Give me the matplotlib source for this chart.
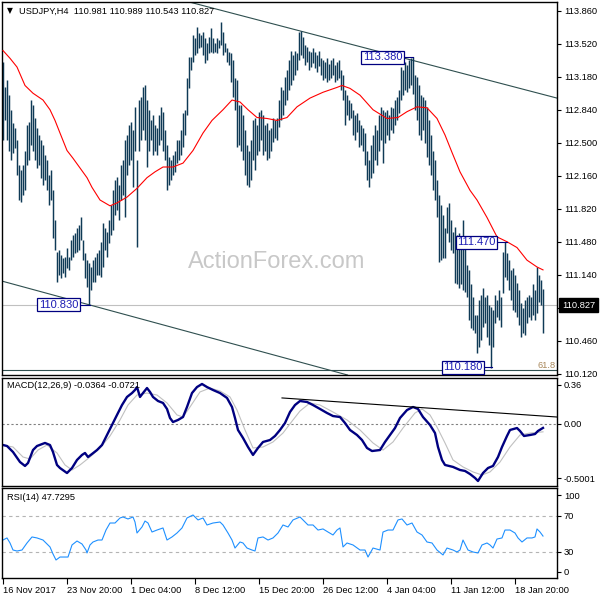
import matplotlib
matplotlib.use("Agg")
import numpy as np
import matplotlib.pyplot as plt

# ---- price bars (USDJPY H4), one high/low per bar ----
highs = [113.33, 113.07, 113.15, 112.99, 112.84, 112.70, 112.65, 112.53, 112.27, 112.22,
         112.27, 112.42, 112.68, 112.71, 112.94, 112.89, 112.75, 112.65, 112.58, 112.53,
         112.48, 112.37, 112.32, 112.17, 112.22,
         112.01, 111.70, 111.37, 111.39, 111.34, 111.31, 111.32, 111.42, 111.32, 111.50,
         111.55, 111.57, 111.62, 111.65, 111.73, 111.50, 111.36, 111.29, 111.26, 111.22,
         111.29, 111.32, 111.36, 111.39, 111.48, 111.67, 111.62, 111.58, 111.70, 111.86,
         112.01, 112.12, 112.15, 112.06, 112.27, 112.32, 112.53, 112.58, 112.68, 112.71,
         112.63, 112.87, 112.32, 112.94, 112.97, 113.07, 113.09, 112.94, 112.84, 112.73,
         112.79, 112.68, 112.65, 112.79, 112.87, 112.82, 112.63, 112.48, 112.35, 112.32,
         112.37, 112.42, 112.53, 112.53, 112.63, 112.81, 112.84,
         113.17, 113.38, 113.38, 113.61, 113.58, 113.69, 113.63, 113.61, 113.64, 113.58,
         113.53, 113.59, 113.68, 113.58, 113.53, 113.58, 113.56, 113.74, 113.64, 113.53,
         113.48, 113.43, 113.42, 113.35, 113.17, 113.15, 112.89,
         112.89, 112.79, 112.63, 112.48, 112.42, 112.53, 112.73, 112.76, 112.68, 112.82,
         112.84, 112.79, 112.68, 112.70, 112.63, 112.65, 112.76, 112.73, 112.75, 112.94,
         113.07, 113.04, 113.18, 113.25, 113.35, 113.45, 113.40, 113.45, 113.42, 113.64,
         113.65, 113.59, 113.51, 113.49, 113.45, 113.43, 113.48, 113.43, 113.40, 113.45,
         113.37, 113.35, 113.33, 113.37, 113.31, 113.35, 113.37, 113.30, 113.33, 113.35,
         113.25, 113.20, 113.04,
         112.99, 112.94, 112.91, 112.84, 112.79, 112.81, 112.73, 112.68, 112.65, 112.60,
         112.42, 112.32, 112.48, 112.58, 112.68, 112.63, 112.79, 112.87, 112.84, 112.82,
         112.84, 112.79, 112.87, 112.86, 112.94, 112.97, 113.04,
         113.28, 113.25, 113.33, 113.30, 113.35, 113.37, 113.38, 113.20, 113.18, 113.09,
         112.99, 112.97, 112.94, 112.87, 112.73, 112.58, 112.42, 112.32, 112.12,
         111.96, 111.86, 111.76, 111.62, 111.84, 111.88, 111.70, 111.58, 111.63, 111.55,
         111.57, 111.50, 111.70, 111.45, 111.24, 111.19, 111.04, 110.91, 110.73, 110.73,
         110.88, 110.93, 111.00, 110.91, 110.93, 110.83, 110.81,
         110.78, 110.93, 110.88, 110.98, 110.91, 111.37, 111.48, 111.36, 111.29, 111.19,
         111.21, 111.14, 111.06, 110.98, 110.85, 110.80, 110.88, 110.91, 110.93, 110.91,
         111.04, 110.98, 111.22, 111.14, 111.09, 110.99]
lows = [112.53, 112.73, 112.53, 112.42, 112.32, 112.39, 112.45, 112.17, 111.91, 111.89,
        111.96, 112.01, 112.27, 112.32, 112.48, 112.42, 112.32, 112.24, 112.27, 112.14,
        112.06, 112.12, 112.01, 111.86, 111.91,
        111.52, 111.39, 111.07, 111.14, 111.11, 111.16, 111.12, 111.21, 111.19, 111.29,
        111.32, 111.36, 111.37, 111.39, 111.50, 111.29, 111.11, 111.01, 110.83, 110.98,
        111.07, 111.07, 111.14, 111.14, 111.12, 111.22, 111.39, 111.32, 111.47, 111.55,
        111.60, 111.76, 111.81, 111.70, 111.91, 111.96, 111.73, 112.17, 112.27, 112.32,
        112.04, 112.42, 111.43, 112.42, 112.53, 112.63, 112.53, 112.25, 112.42, 112.53,
        112.37, 112.42, 112.37, 112.48, 112.53, 112.42, 112.32, 112.01, 112.06, 112.12,
        112.17, 112.20, 112.29, 112.32, 112.37, 112.46, 112.58,
        112.79, 113.06, 113.25, 113.33, 113.40, 113.42, 113.48, 113.49, 113.40, 113.32,
        113.35, 113.42, 113.43, 113.42, 113.43, 113.42, 113.48, 113.51, 113.40, 113.43,
        113.33, 113.30, 113.13, 112.97, 112.84, 112.46, 112.48,
        112.42, 112.32, 112.17, 112.06, 112.04, 112.12, 112.32, 112.22, 112.37, 112.42,
        112.53, 112.37, 112.42, 112.32, 112.34, 112.42, 112.51, 112.55, 112.53, 112.66,
        112.73, 112.79, 112.89, 112.94, 113.04, 113.09, 113.15, 113.20, 113.25, 113.35,
        113.40, 113.37, 113.30, 113.33, 113.25, 113.28, 113.32, 113.27, 113.23, 113.29,
        113.20, 113.15, 113.17, 113.13, 113.15, 113.17, 113.20, 113.13, 113.15, 113.17,
        113.04, 112.94, 112.68,
        112.79, 112.73, 112.75, 112.58, 112.53, 112.61, 112.46, 112.48, 112.42, 112.27,
        112.12, 112.04, 112.14, 112.19, 112.32, 112.27, 112.42, 112.53, 112.29, 112.50,
        112.58, 112.53, 112.63, 112.60, 112.68, 112.73, 112.81,
        112.94, 112.99, 113.04, 113.02, 113.06, 113.09, 113.00, 112.84, 112.73, 112.58,
        112.53, 112.63, 112.50, 112.35, 112.27, 112.17, 112.01, 111.91, 111.73,
        111.27, 111.29, 111.31, 111.31, 111.57, 111.48, 111.39, 111.36, 111.06, 111.04,
        111.00, 111.04, 110.98, 110.96, 110.91, 110.67, 110.59, 110.57, 110.54, 110.33,
        110.40, 110.47, 110.60, 110.64, 110.50, 110.42, 110.18,
        110.40, 110.64, 110.70, 110.67, 110.60, 110.95, 111.12, 111.09, 110.98, 110.88,
        110.78, 110.76, 110.70, 110.62, 110.50, 110.54, 110.52, 110.64, 110.70, 110.67,
        110.73, 110.67, 110.75, 110.86, 110.83, 110.54]

# moving average (red), read at bar positions
ma_x = [0, 3.5, 7, 11, 15, 20, 23.5, 26, 28.5, 32, 35, 38.5, 42, 44.5, 48.5, 53.5, 57, 62,
        67, 72, 76, 80, 85, 90, 95, 100, 104.5, 110, 114.5, 118.5, 122.5, 127, 132, 137,
        142, 147, 153.5, 160, 167, 169.5, 173.5, 178.5, 185, 192, 197.5, 202, 207, 212,
        217, 221, 224.5, 228.5, 233.5, 237, 242, 247, 252, 257, 262, 267, 270]
ma_y = [113.45, 113.37, 113.28, 113.09, 113.01, 112.94, 112.84, 112.73, 112.60, 112.42,
        112.34, 112.24, 112.14, 112.04, 111.91, 111.85, 111.88, 111.94, 112.03, 112.14,
        112.20, 112.25, 112.25, 112.29, 112.42, 112.60, 112.73, 112.84, 112.94, 112.92,
        112.84, 112.76, 112.75, 112.73, 112.76, 112.87, 112.96, 113.02, 113.07, 113.09,
        113.06, 112.99, 112.84, 112.75, 112.76, 112.82, 112.87, 112.86, 112.75, 112.58,
        112.40, 112.20, 112.01, 111.91, 111.73, 111.53, 111.48, 111.42, 111.29, 111.22,
        111.19]

# MACD(12,26,9)
macd_x = [0, 2, 5, 8.5, 11, 12.5, 15, 17, 21, 23.5, 25, 27, 28.5, 32, 34.5, 37, 39.5, 41,
          42.5, 44.5, 47, 49.5, 52, 54.5, 57, 59.5, 62, 64.5, 66, 67, 68.5, 70, 72, 73.5,
          75, 77.5, 80, 82, 83.5, 85, 87.5, 90, 92, 94.5, 97, 99.5, 102, 105, 108.5, 112,
          114.5, 116, 117.5, 120, 122.5, 125, 127.5, 130, 133.5, 136, 138.5, 141, 143.5,
          146, 148.5, 152, 155, 158.5, 162, 165, 168.5, 171, 173.5, 177, 179.5, 182, 184.5,
          188.5, 191, 193.5, 196, 198.5, 202, 205, 207.5, 210, 213.5, 216, 217.5, 219.5,
          221, 225, 228.5, 231, 233.5, 236, 237.5, 240, 242.5, 245, 247.5, 249.5, 252,
          253.5, 257, 258.5, 260.5, 263.5, 266, 267.5, 270]
macd_y = [-0.193, -0.202, -0.257, -0.349, -0.385, -0.358, -0.239, -0.202, -0.174, -0.193,
          -0.257, -0.376, -0.404, -0.450, -0.404, -0.330, -0.284, -0.266, -0.303, -0.275,
          -0.239, -0.193, -0.101, -0.009, 0.083, 0.174, 0.248, 0.284, 0.312, 0.339,
          0.248, 0.284, 0.330, 0.294, 0.248, 0.211, 0.193, 0.138, 0.055, 0.018,
          0.037, 0.064, 0.156, 0.284, 0.339, 0.367, 0.339, 0.312, 0.284, 0.239,
          0.156, 0.055, -0.055, -0.128, -0.211, -0.284, -0.220, -0.165, -0.147, -0.110,
          -0.055, 0.009, 0.110, 0.174, 0.211, 0.202, 0.174, 0.138, 0.101, 0.073,
          0.064, 0.009, -0.055, -0.101, -0.147, -0.220, -0.248, -0.239, -0.165, -0.101,
          -0.037, 0.055, 0.128, 0.156, 0.138, 0.064, -0.009, -0.083, -0.211, -0.330,
          -0.376, -0.394, -0.422, -0.431, -0.459, -0.495, -0.523, -0.450, -0.404, -0.385,
          -0.303, -0.211, -0.110, -0.055, -0.037, -0.064, -0.110, -0.101, -0.092, -0.064,
          -0.036]
signal_x = [0, 5, 10, 13.5, 17.5, 22, 27, 31, 34.5, 38.5, 43.5, 48.5, 53.5, 58.5, 62.5, 67,
            72, 77, 82, 87, 90, 93.5, 98.5, 103.5, 108.5, 113.5, 117, 121, 125, 130, 135,
            140, 145, 148.5, 153.5, 158.5, 165, 172, 178.5, 185, 190, 195, 200, 206,
            209.5, 213.5, 217, 221, 225, 230, 235, 239.5, 243.5, 248.5, 253.5, 258.5,
            263.5, 270]
signal_y = [-0.193, -0.211, -0.303, -0.321, -0.239, -0.193, -0.266, -0.376, -0.422, -0.376,
            -0.303, -0.220, -0.110, 0.037, 0.174, 0.266, 0.284, 0.266, 0.193, 0.083,
            0.064, 0.156, 0.294, 0.330, 0.303, 0.248, 0.128, -0.055, -0.220, -0.211,
            -0.165, -0.083, 0.037, 0.119, 0.193, 0.174, 0.110, 0.037, -0.055, -0.174,
            -0.239, -0.165, -0.037, 0.101, 0.138, 0.083, -0.028, -0.174, -0.330, -0.394,
            -0.440, -0.468, -0.440, -0.349, -0.211, -0.101, -0.083, -0.072]

# RSI(14)
rsi_x = [0, 2, 3.5, 5, 7, 9.5, 12, 14.5, 17, 20, 23.5, 25, 26.5, 28.5, 31, 32.5, 34.5, 37,
         39.5, 41.5, 42, 43.5, 45, 47.5, 49.5, 51.5, 53.5, 56, 58.5, 60, 62.5, 65, 66, 67,
         69.5, 71, 72.5, 74.5, 77, 80, 82, 84.5, 87, 89.5, 92, 95, 97.5, 100, 102, 105,
         108.5, 110, 112.5, 114.5, 116, 118.5, 120, 122, 124.5, 126, 127.5, 130, 132.5,
         135, 137.5, 140, 142.5, 145, 148.5, 150, 152.5, 155, 157.5, 160, 162.5, 165, 167,
         168.5, 170, 172, 175, 178.5, 181, 182.5, 185, 188.5, 190, 192.5, 195, 197.5,
         199.5, 202, 204.5, 207, 209.5, 212, 214.5, 217, 220, 222, 225, 227, 228.5, 230,
         232.5, 235, 237.5, 239.5, 242, 243.5, 245, 247, 249.5, 251, 253.5, 256, 257.5,
         259.5, 262, 264.5, 266, 267, 268.5, 270]
rsi_y = [43.3, 45.6, 40.0, 32.2, 31.1, 32.2, 40.0, 46.7, 45.6, 43.3,
         35.6, 27.8, 21.1, 24.4, 24.4, 24.4, 37.8, 42.2, 38.9, 32.2,
         28.9, 37.8, 41.1, 43.3, 43.3, 54.4, 62.2, 62.2, 67.8, 68.9,
         66.7, 68.9, 63.3, 51.1, 57.8, 64.4, 62.2, 52.2, 54.4, 56.7,
         43.3, 46.7, 51.1, 56.7, 67.8, 71.1, 65.6, 67.8, 60.0, 62.2,
         63.3, 60.0, 51.1, 43.3, 34.4, 41.1, 40.0, 34.4, 32.2, 31.1,
         45.6, 46.7, 43.3, 45.6, 51.1, 60.0, 57.8, 65.6, 68.9, 65.6,
         60.0, 60.0, 54.4, 55.6, 52.2, 48.9, 54.4, 56.7, 35.6, 40.0,
         37.8, 32.2, 32.2, 24.4, 34.4, 32.2, 52.2, 54.4, 54.4, 65.6,
         66.7, 60.0, 62.2, 52.2, 48.9, 41.1, 40.0, 32.2, 26.7, 34.4,
         32.2, 30.0, 32.2, 43.3, 32.2, 30.0, 28.9, 37.8, 40.0, 37.8,
         34.4, 44.4, 45.6, 54.4, 54.4, 51.1, 45.6, 41.1, 45.6, 45.6,
         46.7, 55.6, 52.2, 47.7]

price_ticks = [113.86, 113.52, 113.18, 112.84, 112.50, 112.16, 111.82, 111.48, 111.14,
               110.80, 110.46, 110.12]
date_pos = [0, 32, 64, 96, 128, 160, 192, 224, 256]
date_labels = ["16 Nov 2017", "23 Nov 20:00", "1 Dec 04:00", "8 Dec 12:00",
               "15 Dec 20:00", "26 Dec 12:00", "4 Jan 04:00", "11 Jan 12:00",
               "18 Jan 20:00"]

# annotated swing points: (bar, price, text, leader end bar)
swing_labels = [(27.75, 110.83, "110.830", 43.5),
                (189.75, 113.38, "113.380", 205),
                (236.75, 111.475, "111.470", 252),
                (230.0, 110.185, "110.180", 244.5)]

plt.rcParams['font.family'] = ['Liberation Sans', 'DejaVu Sans']
FS = 6.7
bar_color = '#0f3a56'
slate = '#2f4f4f'

fig = plt.figure(figsize=(6, 6), dpi=100)
L, Wd = 2 / 600, 555 / 600
ax1 = fig.add_axes([L, 1 - 375 / 600, Wd, 373 / 600])
ax2 = fig.add_axes([L, 1 - 486 / 600, Wd, 108 / 600])
ax3 = fig.add_axes([L, 1 - 578 / 600, Wd, 90 / 600])

xs = np.arange(len(highs))

# ---- price panel ----
ax1.text(137, 111.27, "ActionForex.com", color='#c8c8c8', fontsize=17,
         ha='center', va='center', zorder=0)
ax1.axhline(110.827, color='#c0c0c0', lw=0.8, zorder=1)
ax1.axhline(110.155, color=slate, lw=0.8, zorder=1)
ax1.axline((95, 113.94), (277, 112.96), color=slate, lw=0.8, zorder=1)
ax1.axline((-1.5, 111.08), (148.5, 110.24), color=slate, lw=0.8, zorder=1)
ax1.vlines(xs, lows, highs, color=bar_color, lw=1.05, zorder=2)
ax1.plot(ma_x, ma_y, color='#ff0000', lw=0.8, zorder=3)
for bx, p, txt, end in swing_labels:
    ax1.plot([bx + 10, end], [p, p], color='#000080', lw=0.8, zorder=3)
    ax1.text(bx, p, txt, color='#1c1cb4', fontsize=8, ha='center', va='center', zorder=4,
             bbox=dict(boxstyle='square,pad=0.12', fc='white', ec='#000080', lw=0.9))
ax1.text(267.5, 110.21, "61.8", color='#a8875a', fontsize=FS, ha='left', va='center')
ax1.set_ylim(110.107, 113.95)
ax1.set_yticks(price_ticks)
# the 110.800 label sits under the current-price box, as on the terminal
ax1.set_yticklabels(["" if abs(v - 110.80) < 1e-6 else f"{v:.3f}" for v in price_ticks])
ax1.annotate("110.827", xy=(1, 110.827), xycoords=('axes fraction', 'data'),
             xytext=(3.5, 0), textcoords='offset points', ha='left', va='center',
             color='white', fontsize=FS, annotation_clip=False, zorder=10,
             bbox=dict(boxstyle='square,pad=0.3', fc='black', ec='black'))
fig.text(7 / 600, 1 - 11 / 600, "\u25bc", fontsize=5.5, va='center', ha='left',
         family='DejaVu Sans')
fig.text(19 / 600, 1 - 11 / 600, "USDJPY,H4  110.981 110.989 110.543 110.827",
         fontsize=FS, va='center', ha='left')

# ---- MACD panel ----
ax2.axhline(0, color='#808080', lw=0.8, ls=(0, (2, 2)))
ax2.plot(signal_x, signal_y, color='#c0c0c0', lw=0.8)
ax2.plot(macd_x, macd_y, color='#000080', lw=1.7)
ax2.plot([139.5, 277], [0.239, 0.064], color='black', lw=0.8)
ax2.set_ylim(-0.569, 0.422)
ax2.set_yticks([0.36, 0.0, -0.5001])
ax2.set_yticklabels(["0.36", "0.00", "-0.5001"])
ax2.text(5 / 555, 1 - 8 / 108, "MACD(12,26,9) -0.0364 -0.0721", transform=ax2.transAxes,
         fontsize=FS, va='center', ha='left')

# ---- RSI panel ----
for lvl in (30, 70):
    ax3.axhline(lvl, color='#b4b4b4', lw=0.8, ls=(0, (3, 3)))
ax3.plot(rsi_x, rsi_y, color='#1e90ff', lw=0.8)
ax3.set_ylim(1.1, 101.1)
ax3.set_yticks([7.8, 30, 70, 93.3])
ax3.set_yticklabels(["0", "30", "70", "100"])
ax3.text(5 / 555, 1 - 9 / 90, "RSI(14) 47.7295", transform=ax3.transAxes,
         fontsize=FS, va='center', ha='left')
ax3.set_xticks(date_pos)
ax3.set_xticklabels(date_labels, ha='left')
ax3.tick_params(axis='x', direction='out', length=4, width=0.8, pad=2, labelsize=FS)

for ax in (ax1, ax2, ax3):
    ax.set_xlim(-0.5, 277)
    ax.yaxis.tick_right()
    ax.tick_params(axis='y', direction='out', length=3, width=0.8, pad=2, labelsize=FS)
    for s in ax.spines.values():
        s.set_linewidth(1.0)
        s.set_color('black')
for ax in (ax1, ax2):
    ax.set_xticks([])

fig.savefig("out.png", dpi=100, facecolor='white')
